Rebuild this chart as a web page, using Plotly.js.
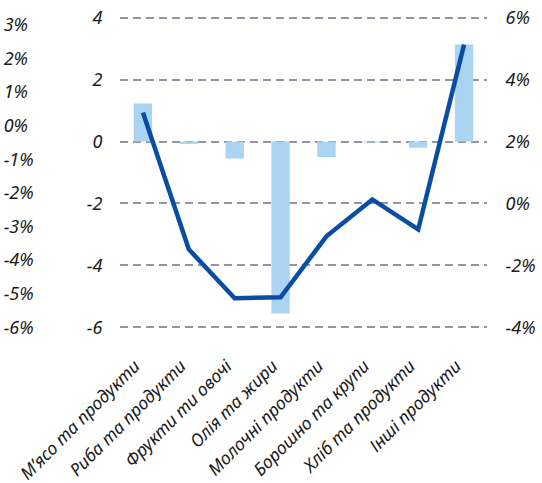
<!DOCTYPE html>
<html><head><meta charset="utf-8">
<script src="https://cdn.plot.ly/plotly-3.0.1.min.js"></script>
<style>body{margin:0;}#c{width:542px;height:483px;}</style>
</head><body><div id="c"></div>
<script>
const categories = ["М’ясо та продукти","Риба та продукти","Фрукти ти овочі","Олія та жири","Молочні продукти","Борошно та крупи","Хліб та продукти","Інші продукти"];
const barValues = [1.23, -0.08, -0.55, -5.55, -0.5, -0.03, -0.2, 3.13];
const lineValues = [2.94, -1.48, -3.06, -3.03, -1.06, 0.13, -0.84, 5.13];
const leftTicks = [3,2,1,0,-1,-2,-3,-4,-5,-6];
const midTicks = [4,2,0,-2,-4,-6];
const rightTicks = [6,4,2,0,-2,-4];

const fnt = {family:"Noto Sans, sans-serif", size:18, color:"#1a1a1a", style:"italic"};
const xfnt = Object.assign({}, fnt, {size:17.5});
const data = [
 {type:"bar", x:categories, y:barValues, marker:{color:"#aad4f1"}, yaxis:"y"},
 {type:"scatter", mode:"lines", x:categories, y:lineValues, line:{color:"#0a4da3", width:4.5}, yaxis:"y2"},
 {type:"scatter", mode:"none", x:[categories[0]], y:[null], yaxis:"y3"}
];
const layout = {
 width:542, height:483, showlegend:false,
 margin:{l:0,r:0,t:13.35,b:151.35},
 paper_bgcolor:"#fff", plot_bgcolor:"#fff",
 bargap:0.6,
 font:fnt,
 xaxis:{domain:[120/542,487/542], tickangle:-45, tickfont:xfnt, showgrid:false, zeroline:false, showline:false, ticks:"outside", ticklen:16, tickcolor:"rgba(0,0,0,0)", ticklabelshift:-8},
 yaxis:{range:[-6.15,4.15], tickvals:midTicks, ticktext:midTicks.map(String), showgrid:true, gridcolor:"#9494a6", gridwidth:2, griddash:"8px,5px", zeroline:false, ticks:"outside", ticklen:13, tickcolor:"rgba(0,0,0,0)", tickfont:fnt, showline:false},
 yaxis2:{range:[-4.15,6.15], overlaying:"y", side:"right", tickvals:rightTicks, ticktext:rightTicks.map(v=>v+"%"), showgrid:false, zeroline:false, ticks:"outside", ticklen:14, tickcolor:"rgba(0,0,0,0)", tickfont:fnt},
 yaxis3:{range:[-6.139,3.349], overlaying:"y", anchor:"free", position:0.005, side:"right", tickvals:leftTicks, ticktext:leftTicks.map(v=>v+"%"), showgrid:false, zeroline:false, showline:false, ticks:"", tickfont:fnt}
};
Plotly.newPlot("c", data, layout, {staticPlot:true});
</script></body></html>
